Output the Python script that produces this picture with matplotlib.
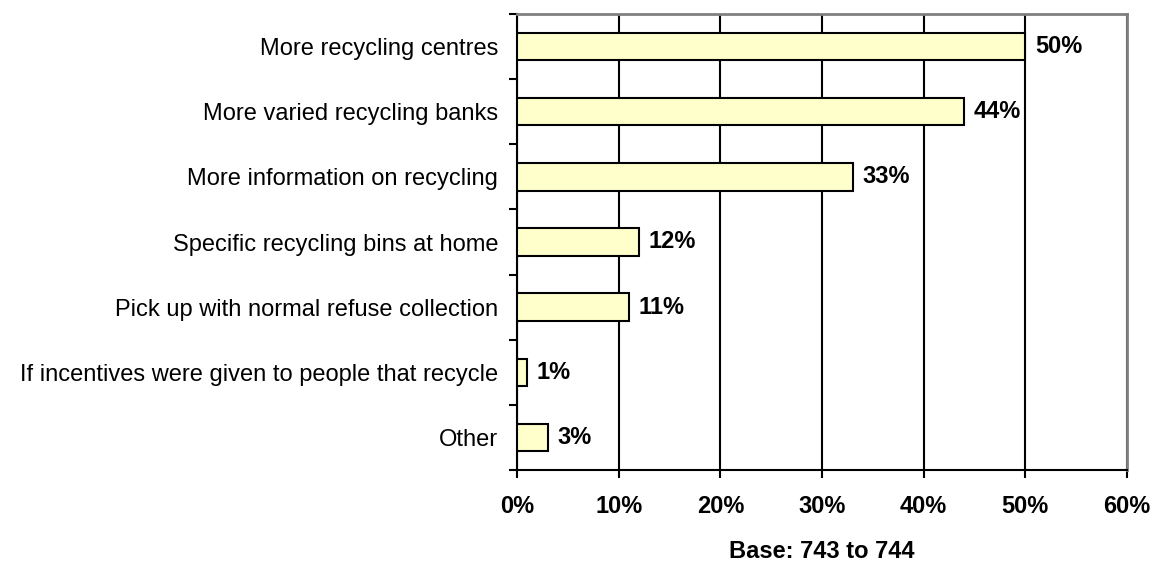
import matplotlib
matplotlib.use("Agg")
import matplotlib.pyplot as plt
import numpy as np

categories = ["More recycling centres", "More varied recycling banks",
              "More information on recycling", "Specific recycling bins at home",
              "Pick up with normal refuse collection",
              "If incentives were given to people that recycle", "Other"]
values = [50, 44, 33, 12, 11, 1, 3]
xticks = [0, 10, 20, 30, 40, 50, 60]
xlabel = "Base: 743 to 744"

plt.rcParams['font.family'] = ['Liberation Sans', 'DejaVu Sans']

fig = plt.figure(figsize=(11.53, 5.61), dpi=100)
ax = fig.add_axes([517/1153, 1-470/561, (1127-517)/1153, (470-14)/561])

n = len(categories)
y = np.arange(n)
ax.barh(y, values, height=0.42, color="#FFFFCC", edgecolor="black", linewidth=1.5, zorder=3)
ax.set_ylim(n - 0.5, -0.5)
ax.set_xlim(0, 60)

for yi, v in zip(y, values):
    ax.annotate(f"{v}%", xy=(v, yi), xytext=(7, 0), textcoords="offset points",
                va="center", ha="left", fontsize=17, fontweight="bold", zorder=4)

ax.set_yticks(y)
ax.set_yticklabels(categories, fontsize=17)
ax.tick_params(axis='y', which='major', length=0, pad=13.5)
ax.set_yticks(np.arange(-0.5, n + 0.5, 1), minor=True)
ax.tick_params(axis='y', which='minor', length=6, width=1.5, direction='out')

ax.set_xticks(xticks)
ax.set_xticklabels([f"{t}%" for t in xticks], fontsize=17, fontweight="bold")
ax.tick_params(axis='x', length=6, width=1.5, direction='out', pad=12)
ax.set_xlabel(xlabel, fontsize=17, fontweight="bold", labelpad=16)

ax.grid(axis='x', color="black", linewidth=1.5, zorder=0)
ax.spines['left'].set_linewidth(1.5)
ax.spines['bottom'].set_linewidth(1.5)
ax.spines['top'].set_color("#808080")
ax.spines['right'].set_color("#808080")
ax.spines['top'].set_linewidth(2)
ax.spines['right'].set_linewidth(2)

fig.savefig("out.png", dpi=100)
